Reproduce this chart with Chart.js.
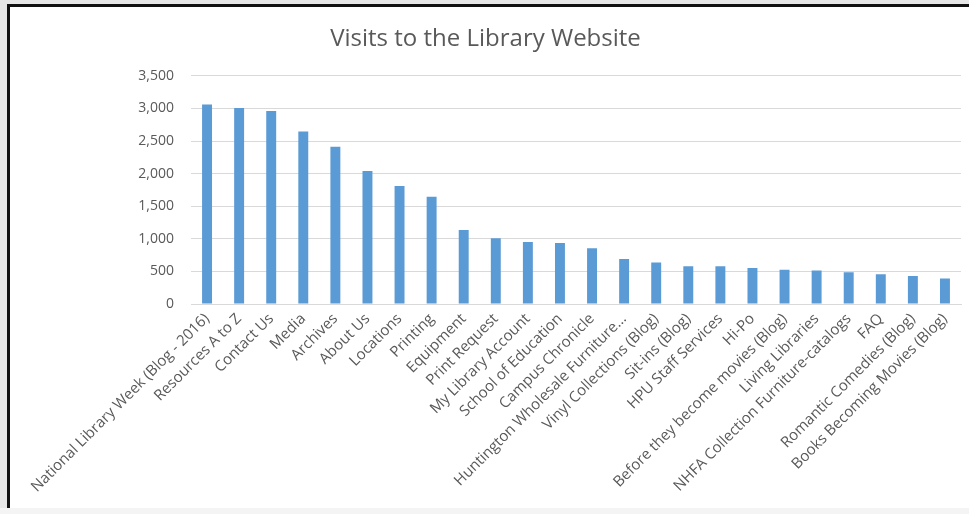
<!DOCTYPE html>
<html>
<head>
<meta charset="utf-8">
<script src="https://cdn.jsdelivr.net/npm/chart.js@4/dist/chart.umd.min.js"></script>
<style>
  html, body { margin: 0; padding: 0; background: #e6e6e6; width: 969px; height: 514px; overflow: hidden; }
  #frame { position: absolute; left: 7px; top: 4px; width: 962px; height: 504px; box-sizing: border-box;
           border-top: 3px solid #111; border-left: 3px solid #111; background: #ffffff; }
  #wrap { position: absolute; left: 10px; top: 7px; width: 959px; height: 501px; }
  #bottomstrip { position: absolute; left: 0; top: 508px; width: 969px; height: 6px; background: #f4f4f4; }
</style>
</head>
<body>
<div id="frame"></div>
<div id="bottomstrip"></div>
<div id="wrap"><canvas id="c" width="959" height="501"></canvas></div>
<script>
const chartTitle = "Visits to the Library Website";
const categories = [
  "National Library Week (Blog - 2016)",
  "Resources A to Z",
  "Contact Us",
  "Media",
  "Archives",
  "About Us",
  "Locations",
  "Printing",
  "Equipment",
  "Print Request",
  "My Library Account",
  "School of Education",
  "Campus Chronicle",
  "Huntington Wholesale Furniture...",
  "Vinyl Collections (Blog)",
  "Sit-ins (Blog)",
  "HPU Staff Services",
  "Hi-Po",
  "Before they become movies (Blog)",
  "Living Libraries",
  "NHFA Collection Furniture-catalogs",
  "FAQ",
  "Romantic Comedies (Blog)",
  "Books Becoming Movies (Blog)"
];
const visits = [3060, 3005, 2960, 2645, 2410, 2040, 1810, 1645, 1135, 1010, 950, 935, 855, 690, 635, 580, 578, 552, 527, 512, 486, 455, 430, 390];
const yTicks = [0, 500, 1000, 1500, 2000, 2500, 3000, 3500];

const textColor = '#595959';
const fontFamily = '"Open Sans", Lato, sans-serif';

new Chart(document.getElementById('c'), {
  type: 'bar',
  data: {
    labels: categories,
    datasets: [{
      data: visits,
      backgroundColor: '#5b9bd5',
      borderWidth: 0,
      barPercentage: 0.62,
      categoryPercentage: 0.5
    }]
  },
  options: {
    responsive: false,
    animation: false,
    locale: 'en-US',
    layout: { padding: { left: 0, right: 8, top: 0, bottom: 0 } },
    plugins: {
      legend: { display: false },
      tooltip: { enabled: false },
      title: {
        display: true,
        text: chartTitle,
        color: textColor,
        font: { family: fontFamily, size: 24, weight: 'normal' },
        padding: { top: 18, bottom: 22 }
      }
    },
    scales: {
      x: {
        grid: { display: false, drawTicks: false },
        border: { display: true, color: '#d9d9d9', width: 1 },
        ticks: {
          color: textColor,
          font: { family: fontFamily, size: 15 },
          minRotation: 45,
          maxRotation: 45,
          autoSkip: false,
          padding: 6
        },
        afterFit: (s) => { s.height = 204; }
      },
      y: {
        min: 0,
        max: 3500,
        afterBuildTicks: (s) => { s.ticks = yTicks.map(v => ({ value: v })); },
        grid: { color: '#d9d9d9', drawTicks: false, lineWidth: 1 },
        border: { display: false },
        ticks: {
          color: textColor,
          font: { family: fontFamily, size: 14 },
          padding: 17
        },
        afterFit: (s) => { s.width = 181; }
      }
    }
  }
});
</script>
</body>
</html>
